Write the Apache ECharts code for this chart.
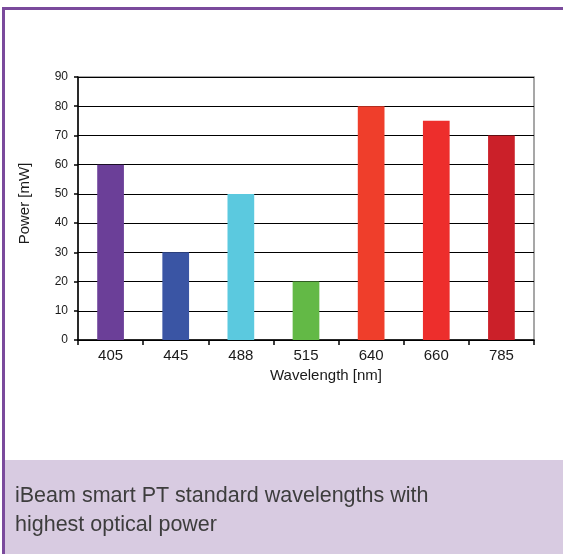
<!DOCTYPE html>
<html>
<head>
<meta charset="utf-8">
<script src="https://cdn.jsdelivr.net/npm/echarts@6/dist/echarts.min.js"></script>
<style>
  html, body { margin: 0; padding: 0; background: #fff; }
  #chart { width: 563px; height: 554px; }
</style>
</head>
<body>
<div id="chart"></div>
<script>
// Laser wavelengths and their maximum optical power
const wavelengths = ['405', '445', '488', '515', '640', '660', '785'];
const powerMW = [60, 30, 50, 20, 80, 75, 70];
const barColors = ['#6b3f98', '#3a55a4', '#5bc9df', '#63b946', '#ef3e2b', '#ed2e2c', '#cb2029'];
const captionLines = ['iBeam smart PT standard wavelengths with', 'highest optical power'];

const chart = echarts.init(document.getElementById('chart'), null, { renderer: 'canvas' });

const labelFont = 'Liberation Sans, Arial, sans-serif';

chart.setOption({
  animation: false,
  backgroundColor: '#ffffff',
  grid: { left: 78, top: 77, width: 456, height: 263, show: true, borderColor: '#8a8a8a', borderWidth: 1.5, backgroundColor: 'transparent' },
  xAxis: {
    type: 'category',
    data: wavelengths,
    name: 'Wavelength [nm]',
    nameLocation: 'middle',
    nameGap: 28,
    nameTextStyle: { fontFamily: labelFont, fontSize: 15, color: '#1a1a1a', padding: [0, 0, 0, 40] },
    axisLine: { lineStyle: { color: '#000', width: 1.5 } },
    axisTick: { show: true, alignWithLabel: false, length: 5, lineStyle: { color: '#000', width: 1.5 } },
    axisLabel: { fontFamily: labelFont, fontSize: 15, color: '#1a1a1a', margin: 8 }
  },
  yAxis: {
    type: 'value',
    min: 0,
    max: 90,
    interval: 10,
    name: 'Power [mW]',
    nameLocation: 'middle',
    nameGap: 46,
    nameRotate: 90,
    nameTextStyle: { fontFamily: labelFont, fontSize: 15, color: '#1a1a1a', padding: [0, 0, 0, 10] },
    axisLine: { show: true, lineStyle: { color: '#000', width: 1.5 } },
    axisTick: { show: true, length: 4, lineStyle: { color: '#000', width: 1.5 } },
    axisLabel: { fontFamily: labelFont, fontSize: 12, color: '#1a1a1a', margin: 10 },
    splitLine: { show: true, lineStyle: { color: '#000', width: 1.2 } }
  },
  series: [{
    type: 'bar',
    data: powerMW.map((v, i) => ({ value: v, itemStyle: { color: barColors[i] } })),
    barWidth: '41%',
    z: 3
  }],
  graphic: [
    // purple frame: top and left edges
    { type: 'rect', shape: { x: 2, y: 7, width: 561, height: 3 }, style: { fill: '#7a4a9c' }, z: 10 },
    { type: 'rect', shape: { x: 2, y: 7, width: 3, height: 547 }, style: { fill: '#7a4a9c' }, z: 10 },
    // caption panel
    { type: 'rect', shape: { x: 5, y: 460, width: 558, height: 94 }, style: { fill: '#d8cbe1' }, z: 5 },
    {
      type: 'text', left: 15, top: 482, z: 6,
      style: {
        text: captionLines.join('\n'),
        fontFamily: 'Liberation Sans, Arial, sans-serif',
        fontSize: 21.5,
        lineHeight: 29,
        fill: '#3d3d3d'
      }
    }
  ]
});
</script>
</body>
</html>
